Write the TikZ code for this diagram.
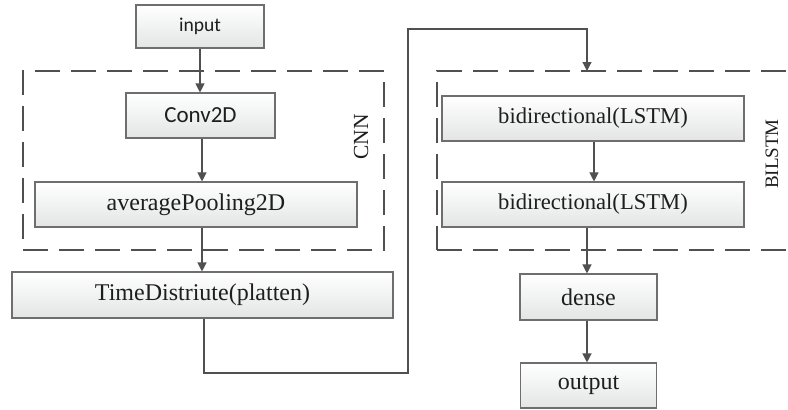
\documentclass[tikz,border=0pt]{standalone}
\usepackage{fontspec}
\setmainfont{Liberation Serif}
\newfontfamily\sansf{Carlito}
\usetikzlibrary{arrows.meta,calc}
\definecolor{boxline}{HTML}{6E6E6E}
\definecolor{boxbot}{HTML}{E3E5E5}
\definecolor{lncol}{HTML}{505050}
\definecolor{txt}{HTML}{1E1E1E}
\begin{document}
\begin{tikzpicture}[x=1pt,y=-1pt,
  box/.style={draw=boxline, line width=1.1pt, top color=white, bottom color=boxbot,
    minimum height=45pt, inner sep=0pt, text=txt, font=\fontsize{24}{26}\selectfont},
  conn/.style={draw=lncol, line width=1.2pt},
  arr/.style={conn, -{Triangle[width=9pt,length=9pt]}},
  grp/.style={draw=lncol, line width=1.4pt, dash pattern=on 25pt off 11pt, inner sep=0pt},
  lab/.style={rotate=90, text=txt, inner sep=0pt}]
\clip (0,0) rectangle (788,410);
\fill[white] (0,0) rectangle (788,410);
% groups
\node[grp, minimum width=361pt, minimum height=179pt] (cnn) at (203.5,160.5) {};
\node[grp, minimum width=373pt, minimum height=179pt] (bil) at (623.5,160.5) {};
\node[lab, font=\fontsize{21.5}{24}\selectfont] (cnnlab) at (361,137) {CNN};
\node[lab, font=\fontsize{19}{22}\selectfont] (bilab) at (772,154) {BILSTM};
% boxes
\node[box, minimum width=128pt, minimum height=43pt, font=\sansf\fontsize{19.6}{22}\selectfont] (input) at (200,26.5) {input};
\node[box, minimum width=149pt, minimum height=45pt, font=\sansf\fontsize{23}{26}\selectfont] (conv) at (200.5,115.5) {Conv2D};
\node[box, minimum width=322pt] (avg) at (196,204.5) {averagePooling2D};
\node[box, minimum width=381pt, minimum height=46pt] (time) at (202.5,295) {TimeDistriute(platten)};
\node[box, minimum width=302pt, font=\fontsize{22.6}{24}\selectfont] (bi1) at (593,118.5) {bidirectional(LSTM)};
\node[box, minimum width=302pt, font=\fontsize{22.6}{24}\selectfont] (bi2) at (593,204.5) {bidirectional(LSTM)};
\node[box, minimum width=137pt, minimum height=46pt] (dense) at (588.5,297) {dense};
\node[box, minimum width=136pt] (out) at (588.5,385.5) {output};
% helper coordinates
\coordinate (lc) at (202,0);
\coordinate (t1) at (204,373);
\coordinate (t2) at (408,373);
\coordinate (t3) at (408,29);
\coordinate (bin) at (587,71);
\coordinate (rc) at (594,0);
% connectors
\draw[arr] (input.south) -- (input.south |- conv.north);
\draw[arr] (lc |- conv.south) -- (lc |- avg.north);
\draw[arr] (lc |- avg.south) -- (lc |- time.north);
\draw[arr] (t1 |- time.south) -- (t1) -- (t2) -- (t3) -- (bin |- t3) -- (bin);
\draw[arr] (rc |- bi1.south) -- (rc |- bi2.north);
\draw[arr] (bin |- bi2.south) -- (bin |- dense.north);
\draw[arr] (bin |- dense.south) -- (bin |- out.north);
\end{tikzpicture}
\end{document}
